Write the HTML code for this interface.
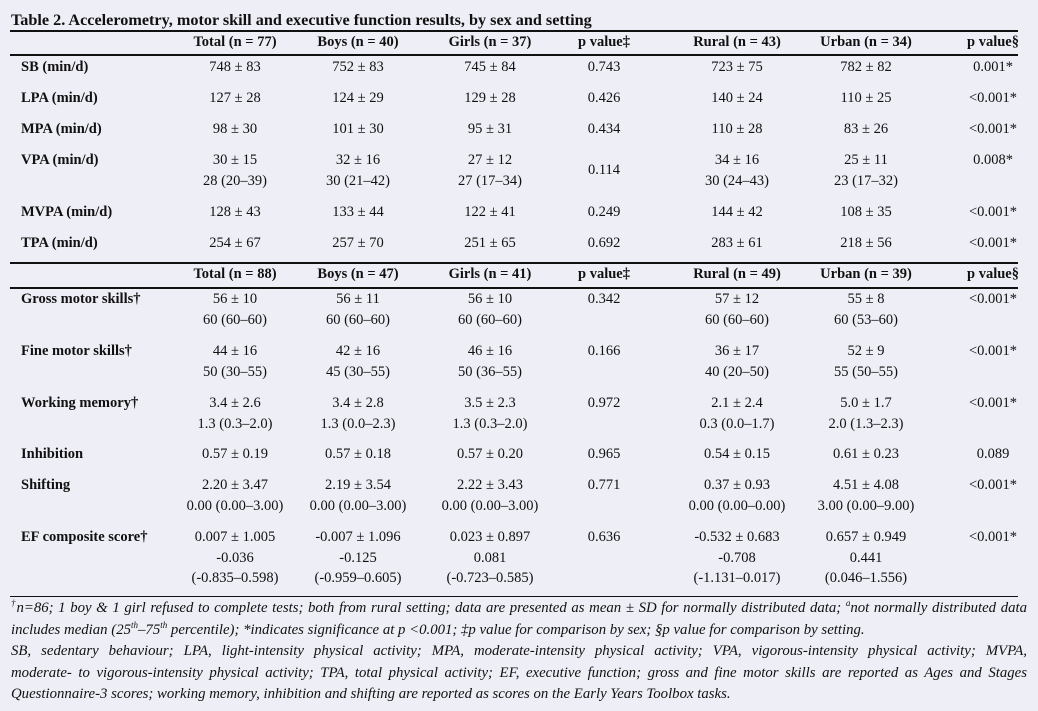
<!DOCTYPE html>
<html><head><meta charset="utf-8"><style>
html,body{margin:0;padding:0}
body{width:1038px;height:711px;background:#eeeef6;position:relative;overflow:hidden;font-family:"Liberation Serif",serif;color:#111;font-size:14.5px}
.t{position:absolute;white-space:nowrap;line-height:1;transform:translate(-50%,-50%)}
.l{position:absolute;white-space:nowrap;line-height:1;transform:translateY(-50%);font-weight:bold}
.r{position:absolute;left:10px;width:1008px;background:#111}
.fl{position:absolute;left:11px;width:1016px;font-style:italic;font-size:14.8px;line-height:21.6px;height:21.6px;text-align:justify;text-align-last:justify;white-space:nowrap;overflow:visible}
.fl.last{text-align-last:left}
sup{font-size:9px;line-height:0}
</style></head><body>
<div class="l" style="left:11px;top:20px;font-size:16.2px">Table 2. Accelerometry, motor skill and executive function results, by sex and setting</div>
<div class="r" style="top:30px;height:2px"></div>
<div class="r" style="top:54px;height:2px"></div>
<div class="r" style="top:262px;height:2px"></div>
<div class="r" style="top:287px;height:2px"></div>
<div class="r" style="top:596px;height:1px"></div>
<div id="cells"></div>
<div>
<div class="fl" style="top:598px;white-space:normal"><sup>†</sup>n=86; 1 boy &amp; 1 girl refused to complete tests; both from rural setting; data are presented as mean ± SD for normally distributed data; <sup>a</sup>not normally distributed data</div>
<div class="fl last" style="top:619.6px">includes median (25<sup>th</sup>–75<sup>th</sup> percentile); *indicates significance at p &lt;0.001; ‡p value for comparison by sex; §p value for comparison by setting.</div>
<div class="fl" style="top:641.2px;white-space:normal">SB, sedentary behaviour; LPA, light-intensity physical activity; MPA, moderate-intensity physical activity; VPA, vigorous-intensity physical activity; MVPA,</div>
<div class="fl" style="top:662.8px;white-space:normal">moderate- to vigorous-intensity physical activity; TPA, total physical activity; EF, executive function; gross and fine motor skills are reported as Ages and Stages</div>
<div class="fl last" style="top:684.4px">Questionnaire-3 scores; working memory, inhibition and shifting are reported as scores on the Early Years Toolbox tasks.</div>
</div>
<script>
const cols=[235,358,490,604,737,866,993];
const header1=["Total (n = 77)","Boys (n = 40)","Girls (n = 37)","p value‡","Rural (n = 43)","Urban (n = 34)","p value§"];
const header2=["Total (n = 88)","Boys (n = 47)","Girls (n = 41)","p value‡","Rural (n = 49)","Urban (n = 39)","p value§"];
const rows=[
 [67,"SB (min/d)",[["748 ± 83"],["752 ± 83"],["745 ± 84"],["0.743"],["723 ± 75"],["782 ± 82"],["0.001*"]]],
 [98,"LPA (min/d)",[["127 ± 28"],["124 ± 29"],["129 ± 28"],["0.426"],["140 ± 24"],["110 ± 25"],["<0.001*"]]],
 [129,"MPA (min/d)",[["98 ± 30"],["101 ± 30"],["95 ± 31"],["0.434"],["110 ± 28"],["83 ± 26"],["<0.001*"]]],
 [160,"VPA (min/d)",[["30 ± 15","28 (20–39)"],["32 ± 16","30 (21–42)"],["27 ± 12","27 (17–34)"],["","½0.114"],["34 ± 16","30 (24–43)"],["25 ± 11","23 (17–32)"],["0.008*"]]],
 [212,"MVPA (min/d)",[["128 ± 43"],["133 ± 44"],["122 ± 41"],["0.249"],["144 ± 42"],["108 ± 35"],["<0.001*"]]],
 [243,"TPA (min/d)",[["254 ± 67"],["257 ± 70"],["251 ± 65"],["0.692"],["283 ± 61"],["218 ± 56"],["<0.001*"]]],
 [299,"Gross motor skills†",[["56 ± 10","60 (60–60)"],["56 ± 11","60 (60–60)"],["56 ± 10","60 (60–60)"],["0.342"],["57 ± 12","60 (60–60)"],["55 ± 8","60 (53–60)"],["<0.001*"]]],
 [351,"Fine motor skills†",[["44 ± 16","50 (30–55)"],["42 ± 16","45 (30–55)"],["46 ± 16","50 (36–55)"],["0.166"],["36 ± 17","40 (20–50)"],["52 ± 9","55 (50–55)"],["<0.001*"]]],
 [403,"Working memory†",[["3.4 ± 2.6","1.3 (0.3–2.0)"],["3.4 ± 2.8","1.3 (0.0–2.3)"],["3.5 ± 2.3","1.3 (0.3–2.0)"],["0.972"],["2.1 ± 2.4","0.3 (0.0–1.7)"],["5.0 ± 1.7","2.0 (1.3–2.3)"],["<0.001*"]]],
 [454,"Inhibition",[["0.57 ± 0.19"],["0.57 ± 0.18"],["0.57 ± 0.20"],["0.965"],["0.54 ± 0.15"],["0.61 ± 0.23"],["0.089"]]],
 [485,"Shifting",[["2.20 ± 3.47","0.00 (0.00–3.00)"],["2.19 ± 3.54","0.00 (0.00–3.00)"],["2.22 ± 3.43","0.00 (0.00–3.00)"],["0.771"],["0.37 ± 0.93","0.00 (0.00–0.00)"],["4.51 ± 4.08","3.00 (0.00–9.00)"],["<0.001*"]]],
 [537,"EF composite score†",[["0.007 ± 1.005","-0.036","(-0.835–0.598)"],["-0.007 ± 1.096","-0.125","(-0.959–0.605)"],["0.023 ± 0.897","0.081","(-0.723–0.585)"],["0.636"],["-0.532 ± 0.683","-0.708","(-1.131–0.017)"],["0.657 ± 0.949","0.441","(0.046–1.556)"],["<0.001*"]]]
];
const c=document.getElementById('cells');
function add(cls,txt,x,y,bold){const d=document.createElement('div');d.className=cls;d.textContent=txt;d.style.left=x+'px';d.style.top=y+'px';if(bold)d.style.fontWeight='bold';c.appendChild(d);return d;}
[[42,header1],[274,header2]].forEach(([y,h])=>{h.forEach((s,i)=>{const d=add('t',s,cols[i],y,true);

});});
rows.forEach(([y,lab,vals])=>{
 const d=add('l',lab,21,y,false);
 
 
 vals.forEach((v,i)=>{v.forEach((s,j)=>{if(!s)return;let yy=y+j*20.7;
 if(s.charAt(0)==='½'){s=s.slice(1);yy=y+10.3;}
 const e=add('t',s,cols[i],yy,false);
 
 });});
});
</script>
</body></html>
